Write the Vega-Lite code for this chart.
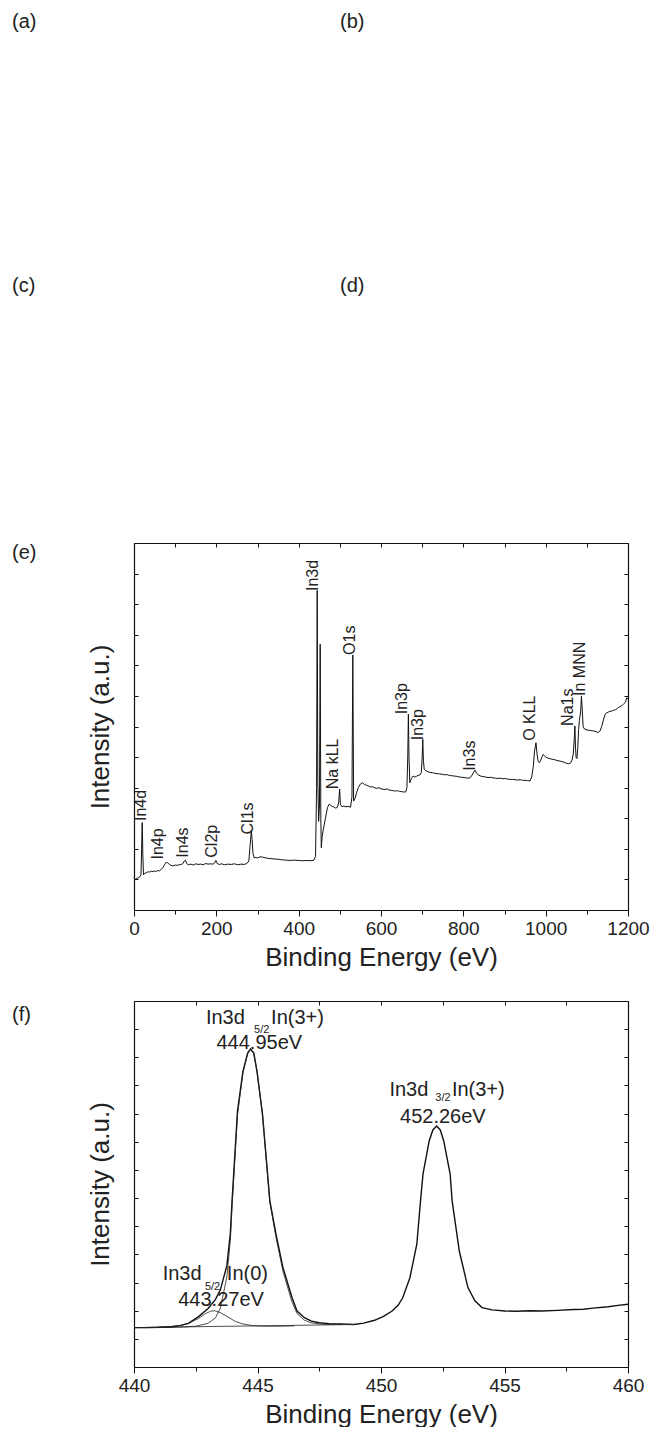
{
  "$schema": "https://vega.github.io/schema/vega-lite/v6.json",
  "padding": {"left": 12, "top": 12, "right": 0, "bottom": 0},
  "config": {
    "view": {"stroke": null},
    "font": "Liberation Sans",
    "title": {"fontSize": 20, "fontWeight": "normal", "anchor": "start", "color": "#222222", "offset": 4},
    "axis": {"domainColor": "#111111", "tickColor": "#111111", "labelColor": "#222222", "titleColor": "#222222", "labelFontSize": 19, "titleFontSize": 26, "titleFontWeight": "normal", "grid": false, "labelFlush": false, "labelOverlap": false, "domainWidth": 1.2, "tickWidth": 1}
  },
  "datasets": {
    "survey": [
      {"E":0,"I":1.06},{"E":3,"I":1.0},{"E":6,"I":1.03},{"E":10,"I":1.05},{"E":14,"I":1.08},{"E":17,"I":1.15},{"E":18.5,"I":2.0},{"E":20,"I":2.86},{"E":21.5,"I":1.8},{"E":23,"I":1.15},
      {"E":26,"I":1.2},{"E":30,"I":1.22},{"E":34,"I":1.25},{"E":38,"I":1.24},{"E":42,"I":1.27},{"E":46,"I":1.25},{"E":50,"I":1.28},{"E":54,"I":1.26},{"E":58,"I":1.29},{"E":62,"I":1.28},
      {"E":66,"I":1.33},{"E":70,"I":1.38},{"E":74,"I":1.48},{"E":78,"I":1.56},{"E":82,"I":1.54},{"E":86,"I":1.49},{"E":90,"I":1.46},{"E":95,"I":1.44},{"E":100,"I":1.47},{"E":105,"I":1.46},
      {"E":110,"I":1.48},{"E":115,"I":1.49},{"E":119,"I":1.52},{"E":122,"I":1.6},{"E":125,"I":1.63},{"E":128,"I":1.52},{"E":132,"I":1.48},{"E":138,"I":1.5},{"E":144,"I":1.47},{"E":150,"I":1.51},
      {"E":156,"I":1.49},{"E":162,"I":1.5},{"E":168,"I":1.48},{"E":174,"I":1.52},{"E":180,"I":1.5},{"E":186,"I":1.51},{"E":192,"I":1.5},{"E":196,"I":1.54},{"E":199,"I":1.62},{"E":202,"I":1.52},
      {"E":207,"I":1.49},{"E":213,"I":1.51},{"E":220,"I":1.48},{"E":228,"I":1.5},{"E":236,"I":1.49},{"E":244,"I":1.51},{"E":252,"I":1.48},{"E":260,"I":1.5},{"E":268,"I":1.49},{"E":274,"I":1.52},
      {"E":279,"I":1.6},{"E":282,"I":2.1},{"E":285,"I":2.6},{"E":287,"I":2.3},{"E":289,"I":1.85},{"E":292,"I":1.7},{"E":296,"I":1.72},{"E":300,"I":1.7},{"E":306,"I":1.74},{"E":312,"I":1.73},
      {"E":318,"I":1.71},{"E":325,"I":1.69},{"E":332,"I":1.68},{"E":340,"I":1.67},{"E":350,"I":1.66},{"E":360,"I":1.64},{"E":370,"I":1.63},{"E":380,"I":1.62},{"E":390,"I":1.63},{"E":400,"I":1.62},
      {"E":410,"I":1.61},{"E":420,"I":1.62},{"E":430,"I":1.61},{"E":437,"I":1.63},{"E":441,"I":1.75},{"E":443.5,"I":4.0},{"E":445,"I":10.45},{"E":446.5,"I":4.2},{"E":448.5,"I":2.9},{"E":450.5,"I":3.4},
      {"E":452.3,"I":8.69},{"E":453.8,"I":3.0},{"E":455,"I":2.04},{"E":457,"I":2.4},{"E":460,"I":2.64},{"E":465,"I":3.0},{"E":470,"I":3.35},{"E":474,"I":3.46},{"E":478,"I":3.42},{"E":482,"I":3.38},
      {"E":486,"I":3.37},{"E":490,"I":3.33},{"E":494,"I":3.36},{"E":497,"I":3.5},{"E":499.5,"I":3.95},{"E":501.5,"I":3.45},{"E":505,"I":3.38},{"E":510,"I":3.4},{"E":515,"I":3.37},{"E":520,"I":3.39},
      {"E":526,"I":3.36},{"E":529.5,"I":3.7},{"E":531.5,"I":8.34},{"E":533.5,"I":3.56},{"E":537,"I":3.65},{"E":541,"I":3.85},{"E":545,"I":4.0},{"E":550,"I":4.12},{"E":555,"I":4.16},{"E":560,"I":4.1},
      {"E":565,"I":4.08},{"E":570,"I":4.05},{"E":575,"I":4.02},{"E":580,"I":4.03},{"E":585,"I":3.99},{"E":590,"I":3.98},{"E":595,"I":4.0},{"E":600,"I":3.96},{"E":605,"I":3.95},{"E":610,"I":3.94},
      {"E":615,"I":3.96},{"E":620,"I":3.92},{"E":625,"I":3.91},{"E":630,"I":3.9},{"E":635,"I":3.89},{"E":640,"I":3.9},{"E":645,"I":3.88},{"E":650,"I":3.87},{"E":655,"I":3.86},{"E":660,"I":3.86},
      {"E":663,"I":4.0},{"E":665,"I":5.0},{"E":666.5,"I":6.4},{"E":668,"I":5.0},{"E":670,"I":4.16},{"E":674,"I":4.3},{"E":678,"I":4.38},{"E":682,"I":4.35},{"E":686,"I":4.37},{"E":690,"I":4.4},
      {"E":694,"I":4.41},{"E":698,"I":4.5},{"E":700,"I":5.0},{"E":701.5,"I":5.58},{"E":703,"I":4.9},{"E":705,"I":4.6},{"E":709,"I":4.55},{"E":714,"I":4.52},{"E":719,"I":4.5},{"E":725,"I":4.49},
      {"E":730,"I":4.47},{"E":736,"I":4.46},{"E":742,"I":4.45},{"E":748,"I":4.44},{"E":754,"I":4.42},{"E":760,"I":4.43},{"E":766,"I":4.4},{"E":772,"I":4.39},{"E":778,"I":4.38},{"E":784,"I":4.37},
      {"E":790,"I":4.35},{"E":796,"I":4.34},{"E":802,"I":4.33},{"E":808,"I":4.32},{"E":814,"I":4.31},{"E":819,"I":4.36},{"E":824,"I":4.48},{"E":828,"I":4.57},{"E":832,"I":4.48},{"E":836,"I":4.42},
      {"E":842,"I":4.38},{"E":848,"I":4.36},{"E":854,"I":4.35},{"E":860,"I":4.33},{"E":866,"I":4.34},{"E":872,"I":4.32},{"E":878,"I":4.31},{"E":884,"I":4.3},{"E":890,"I":4.31},{"E":896,"I":4.29},
      {"E":902,"I":4.3},{"E":908,"I":4.28},{"E":914,"I":4.27},{"E":920,"I":4.27},{"E":926,"I":4.26},{"E":932,"I":4.25},{"E":938,"I":4.26},{"E":944,"I":4.24},{"E":950,"I":4.24},{"E":956,"I":4.23},
      {"E":962,"I":4.22},{"E":966,"I":4.35},{"E":970,"I":4.7},{"E":973,"I":5.2},{"E":976.5,"I":5.47},{"E":979,"I":5.1},{"E":982,"I":4.85},{"E":985,"I":4.82},{"E":988,"I":4.9},{"E":991,"I":5.0},
      {"E":994,"I":5.09},{"E":997,"I":5.05},{"E":1000,"I":5.0},{"E":1005,"I":4.97},{"E":1010,"I":4.95},{"E":1015,"I":4.93},{"E":1020,"I":4.92},{"E":1025,"I":4.9},{"E":1030,"I":4.88},{"E":1035,"I":4.87},
      {"E":1040,"I":4.85},{"E":1045,"I":4.83},{"E":1050,"I":4.8},{"E":1055,"I":4.78},{"E":1060,"I":4.8},{"E":1064,"I":4.9},{"E":1067,"I":5.1},{"E":1069.5,"I":5.6},{"E":1071,"I":6.02},{"E":1072.5,"I":5.3},
      {"E":1074,"I":4.98},{"E":1076,"I":4.95},{"E":1078,"I":5.3},{"E":1080,"I":5.9},{"E":1082,"I":6.2},{"E":1085,"I":6.5},{"E":1087,"I":7.0},{"E":1089,"I":6.5},{"E":1091,"I":6.0},{"E":1094,"I":5.92},
      {"E":1098,"I":5.9},{"E":1103,"I":5.88},{"E":1108,"I":5.87},{"E":1113,"I":5.86},{"E":1118,"I":5.85},{"E":1123,"I":5.83},{"E":1128,"I":5.8},{"E":1132,"I":5.85},{"E":1136,"I":6.0},{"E":1140,"I":6.2},
      {"E":1144,"I":6.38},{"E":1148,"I":6.45},{"E":1152,"I":6.47},{"E":1156,"I":6.5},{"E":1160,"I":6.5},{"E":1165,"I":6.53},{"E":1170,"I":6.55},{"E":1175,"I":6.6},{"E":1180,"I":6.65},{"E":1185,"I":6.68},
      {"E":1190,"I":6.75},{"E":1194,"I":6.8},{"E":1197,"I":6.94},{"E":1200,"I":6.9}
    ],
    "surveyLabels": [
      {"label":"In4d","E":29,"I":2.91},{"label":"In4p","E":71,"I":1.65},{"label":"In4s","E":131,"I":1.71},{"label":"Cl2p","E":201,"I":1.71},{"label":"Cl1s","E":289,"I":2.47},
      {"label":"In3d","E":447,"I":10.43},{"label":"Na kLL","E":495.5,"I":3.95},{"label":"O1s","E":537,"I":8.34},{"label":"In3p","E":662,"I":6.4},{"label":"In3p","E":702.6,"I":5.55},
      {"label":"In3s","E":828,"I":4.55},{"label":"O KLL","E":974,"I":5.53},{"label":"Na1s","E":1066,"I":6.02},{"label":"In MNN","E":1095,"I":7.0}
    ],
    "hr": [
      {"s":"raw","E":440,"I":1.4},{"s":"raw","E":440.5,"I":1.4},{"s":"raw","E":441,"I":1.41},{"s":"raw","E":441.5,"I":1.43},{"s":"raw","E":441.9,"I":1.48},{"s":"raw","E":442.2,"I":1.55},{"s":"raw","E":442.6,"I":1.78},{"s":"raw","E":443.0,"I":2.08},{"s":"raw","E":443.3,"I":2.4},{"s":"raw","E":443.5,"I":2.75},
      {"s":"raw","E":443.76,"I":3.6},{"s":"raw","E":443.9,"I":4.75},{"s":"raw","E":443.97,"I":5.9},{"s":"raw","E":444.19,"I":9.09},{"s":"raw","E":444.41,"I":10.5},{"s":"raw","E":444.6,"I":11.15},{"s":"raw","E":444.72,"I":11.3},{"s":"raw","E":444.85,"I":11.15},{"s":"raw","E":444.98,"I":10.5},{"s":"raw","E":445.2,"I":8.99},
      {"s":"raw","E":445.5,"I":5.9},{"s":"raw","E":445.75,"I":4.71},{"s":"raw","E":446.03,"I":3.53},{"s":"raw","E":446.4,"I":2.46},{"s":"raw","E":446.6,"I":1.99},{"s":"raw","E":446.9,"I":1.75},{"s":"raw","E":447.18,"I":1.63},{"s":"raw","E":447.5,"I":1.57},{"s":"raw","E":447.9,"I":1.54},{"s":"raw","E":448.4,"I":1.53},
      {"s":"raw","E":448.9,"I":1.51},{"s":"raw","E":449.3,"I":1.56},{"s":"raw","E":449.74,"I":1.66},{"s":"raw","E":450.1,"I":1.8},{"s":"raw","E":450.45,"I":1.99},{"s":"raw","E":450.7,"I":2.2},{"s":"raw","E":450.88,"I":2.46},{"s":"raw","E":451.17,"I":3.17},{"s":"raw","E":451.45,"I":4.36},{"s":"raw","E":451.6,"I":5.9},
      {"s":"raw","E":451.7,"I":6.85},{"s":"raw","E":451.95,"I":8.03},{"s":"raw","E":452.1,"I":8.42},{"s":"raw","E":452.25,"I":8.56},{"s":"raw","E":452.4,"I":8.42},{"s":"raw","E":452.54,"I":8.03},{"s":"raw","E":452.8,"I":6.85},{"s":"raw","E":452.88,"I":5.9},{"s":"raw","E":453.17,"I":4.12},{"s":"raw","E":453.52,"I":2.82},
      {"s":"raw","E":453.8,"I":2.35},{"s":"raw","E":454.09,"I":2.11},{"s":"raw","E":454.5,"I":2.03},{"s":"raw","E":455.02,"I":1.99},{"s":"raw","E":455.5,"I":1.98},{"s":"raw","E":456,"I":2.0},{"s":"raw","E":456.5,"I":1.99},{"s":"raw","E":457.15,"I":2.01},{"s":"raw","E":457.8,"I":2.04},{"s":"raw","E":458.2,"I":2.05},
      {"s":"raw","E":458.58,"I":2.09},{"s":"raw","E":459.2,"I":2.14},{"s":"raw","E":459.6,"I":2.19},{"s":"raw","E":460,"I":2.23},
      {"s":"fit3","E":440,"I":1.4},{"s":"fit3","E":441,"I":1.4},{"s":"fit3","E":441.5,"I":1.41},{"s":"fit3","E":442.0,"I":1.42},{"s":"fit3","E":442.5,"I":1.45},{"s":"fit3","E":443.0,"I":1.55},{"s":"fit3","E":443.3,"I":1.75},{"s":"fit3","E":443.5,"I":2.1},{"s":"fit3","E":443.76,"I":3.2},{"s":"fit3","E":443.9,"I":4.5},
      {"s":"fit3","E":443.97,"I":5.7},{"s":"fit3","E":444.19,"I":8.95},{"s":"fit3","E":444.41,"I":10.45},{"s":"fit3","E":444.6,"I":11.12},{"s":"fit3","E":444.72,"I":11.28},{"s":"fit3","E":444.85,"I":11.13},{"s":"fit3","E":444.98,"I":10.5},{"s":"fit3","E":445.2,"I":9.0},{"s":"fit3","E":445.5,"I":5.85},{"s":"fit3","E":445.75,"I":4.6},
      {"s":"fit3","E":446.03,"I":3.4},{"s":"fit3","E":446.4,"I":2.3},{"s":"fit3","E":446.6,"I":1.9},{"s":"fit3","E":446.9,"I":1.66},{"s":"fit3","E":447.18,"I":1.57},{"s":"fit3","E":447.5,"I":1.53},{"s":"fit3","E":447.9,"I":1.51},{"s":"fit3","E":448.4,"I":1.51},
      {"s":"fit0","E":440.5,"I":1.4},{"s":"fit0","E":441,"I":1.41},{"s":"fit0","E":441.5,"I":1.43},{"s":"fit0","E":441.9,"I":1.48},{"s":"fit0","E":442.2,"I":1.55},{"s":"fit0","E":442.6,"I":1.72},{"s":"fit0","E":442.9,"I":1.9},{"s":"fit0","E":443.1,"I":1.98},{"s":"fit0","E":443.27,"I":2.0},{"s":"fit0","E":443.5,"I":1.93},
      {"s":"fit0","E":443.8,"I":1.78},{"s":"fit0","E":444.1,"I":1.62},{"s":"fit0","E":444.4,"I":1.53},{"s":"fit0","E":444.8,"I":1.47},{"s":"fit0","E":445.3,"I":1.45},{"s":"fit0","E":446,"I":1.45},{"s":"fit0","E":446.5,"I":1.46},
      {"s":"bg","E":440,"I":1.4},{"s":"bg","E":449,"I":1.51}
    ],
    "hrLabels": [
      {"t":"In3d","E":442.91,"I":12.17},{"t":"In(3+)","E":445.55,"I":12.17},{"t":"444.95eV","E":443.34,"I":11.29},
      {"t":"In3d","E":450.34,"I":9.63},{"t":"In(3+)","E":452.87,"I":9.63},{"t":"452.26eV","E":450.77,"I":8.68},
      {"t":"In3d","E":441.16,"I":3.08},{"t":"In(0)","E":443.76,"I":3.08},{"t":"443.27eV","E":441.79,"I":2.17}
    ],
    "hrSub": [
      {"t":"5/2","E":444.86,"I":11.88},{"t":"3/2","E":452.2,"I":9.45},{"t":"5/2","E":442.87,"I":2.72}
    ]
  },
  "spacing": 30,
  "vconcat": [
    {"hconcat": [
      {"width": 206, "height": 210, "title": {"text": "(a)", "dx": -122, "frame": "group"}, "data": {"values": []}, "mark": "point"},
      {"width": 150, "height": 210, "title": {"text": "(b)", "dx": -122, "frame": "group"}, "data": {"values": []}, "mark": "point"}
    ], "spacing": 0},
    {"hconcat": [
      {"width": 206, "height": 212, "title": {"text": "(c)", "dx": -122, "frame": "group"}, "data": {"values": []}, "mark": "point"},
      {"width": 150, "height": 212, "title": {"text": "(d)", "dx": -122, "frame": "group"}, "data": {"values": []}, "mark": "point"}
    ], "spacing": 0},
    {
      "width": 494, "height": 367,
      "title": {"text": "(e)", "offset": -20, "dx": -122, "frame": "group"},
      "layer": [
        {"data": {"name": "survey"}, "mark": {"type": "line", "color": "#111111", "strokeWidth": 1},
         "encoding": {
           "x": {"field": "E", "type": "quantitative", "scale": {"domain": [0, 1200], "nice": false, "zero": false},
                 "axis": {"orient": "bottom", "values": [0,100,200,300,400,500,600,700,800,900,1000,1100,1200], "format": "d",
                          "labelExpr": "datum.value % 200 === 0 ? datum.label : ''",
                          "tickSize": {"condition": {"test": "datum.value % 200 === 0", "value": 6}, "value": 4},
                          "title": "Binding Energy (eV)", "labelPadding": 3, "titlePadding": 6}},
           "y": {"field": "I", "type": "quantitative", "scale": {"domain": [0, 12], "nice": false, "zero": false},
                 "axis": {"orient": "left", "values": [0,1,2,3,4,5,6,7,8,9,10,11,12], "labels": false, "tickSize": -4, "title": "Intensity (a.u.)", "titlePadding": 20}}
         }},
        {"data": {"name": "surveyLabels"}, "mark": {"type": "text", "angle": 270, "align": "left", "baseline": "alphabetic", "fontSize": 16, "color": "#222222"},
         "encoding": {
           "x": {"field": "E", "type": "quantitative", "scale": {"domain": [0, 1200], "nice": false, "zero": false},
                 "axis": {"orient": "top", "values": [0,100,200,300,400,500,600,700,800,900,1000,1100,1200], "labels": false, "tickSize": -4, "title": null}},
           "y": {"field": "I", "type": "quantitative", "scale": {"domain": [0, 12], "nice": false, "zero": false},
                 "axis": {"orient": "right", "values": [0,1,2,3,4,5,6,7,8,9,10,11,12], "labels": false, "tickSize": -4, "title": null}},
           "text": {"field": "label"}
         }}
      ],
      "resolve": {"axis": {"x": "independent", "y": "independent"}}
    },
    {
      "width": 494, "height": 366,
      "title": {"text": "(f)", "offset": -24, "dx": -122, "frame": "group"},
      "layer": [
        {"data": {"name": "hr"}, "transform": [{"filter": "datum.s === 'raw'"}],
         "mark": {"type": "line", "color": "#111111", "strokeWidth": 1.4},
         "encoding": {
           "x": {"field": "E", "type": "quantitative", "scale": {"domain": [440, 460], "nice": false, "zero": false},
                 "axis": {"orient": "bottom", "values": [440,442.5,445,447.5,450,452.5,455,457.5,460], "format": "d",
                          "labelExpr": "datum.value % 5 === 0 ? datum.label : ''",
                          "tickSize": {"condition": {"test": "datum.value % 5 === 0", "value": 6}, "value": 4},
                          "title": "Binding Energy (eV)", "labelPadding": 3, "titlePadding": 6}},
           "y": {"field": "I", "type": "quantitative", "scale": {"domain": [0, 13], "nice": false, "zero": false},
                 "axis": {"orient": "left", "values": [0,1,2,3,4,5,6,7,8,9,10,11,12,13], "labels": false, "tickSize": -4, "title": "Intensity (a.u.)", "titlePadding": 20}}
         }},
        {"data": {"name": "hr"}, "transform": [{"filter": "datum.s !== 'raw'"}],
         "mark": {"type": "line", "color": "#222222", "strokeWidth": 0.8},
         "encoding": {
           "x": {"field": "E", "type": "quantitative", "scale": {"domain": [440, 460], "nice": false, "zero": false}, "axis": null},
           "y": {"field": "I", "type": "quantitative", "scale": {"domain": [0, 13], "nice": false, "zero": false}, "axis": null},
           "detail": {"field": "s"}
         }},
        {"data": {"name": "hrLabels"}, "mark": {"type": "text", "align": "left", "baseline": "alphabetic", "fontSize": 20, "color": "#222222"},
         "encoding": {
           "x": {"field": "E", "type": "quantitative", "scale": {"domain": [440, 460], "nice": false, "zero": false},
                 "axis": {"orient": "top", "values": [440,442.5,445,447.5,450,452.5,455,457.5,460], "labels": false, "tickSize": -4, "title": null}},
           "y": {"field": "I", "type": "quantitative", "scale": {"domain": [0, 13], "nice": false, "zero": false},
                 "axis": {"orient": "right", "values": [0,1,2,3,4,5,6,7,8,9,10,11,12,13], "labels": false, "tickSize": -4, "title": null}},
           "text": {"field": "t"}
         }},
        {"data": {"name": "hrSub"}, "mark": {"type": "text", "align": "left", "baseline": "alphabetic", "fontSize": 11, "color": "#222222"},
         "encoding": {
           "x": {"field": "E", "type": "quantitative", "scale": {"domain": [440, 460], "nice": false, "zero": false}, "axis": null},
           "y": {"field": "I", "type": "quantitative", "scale": {"domain": [0, 13], "nice": false, "zero": false}, "axis": null},
           "text": {"field": "t"}
         }}
      ],
      "resolve": {"axis": {"x": "independent", "y": "independent"}}
    }
  ]
}
